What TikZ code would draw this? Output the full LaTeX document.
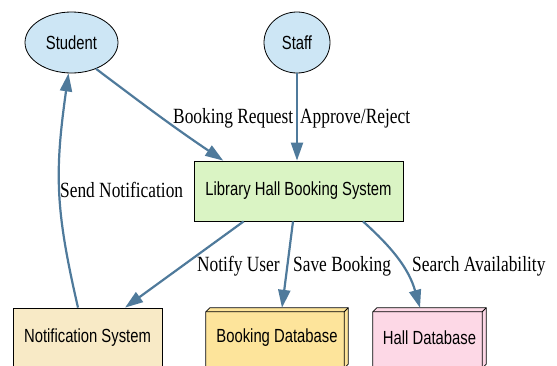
\documentclass[tikz,border=0pt]{standalone}
\usepackage{fontspec}
\newfontfamily\boxfont[FakeStretch=0.78]{Liberation Sans}
\newfontfamily\flowfont[FakeStretch=0.8]{Liberation Serif}
\usepackage{tikz}
\usetikzlibrary{arrows.meta, shapes}
\definecolor{edgeblue}{HTML}{4F7A9B}
\definecolor{actorfill}{HTML}{CDE6F5}
\definecolor{sysfill}{HTML}{DAF4C4}
\definecolor{notiffill}{HTML}{F8EAC6}
\definecolor{bookfill}{HTML}{FDE49B}
\definecolor{hallfill}{HTML}{FDD8E6}
\tikzstyle{actor} = [draw, ellipse, line width=0.8pt, fill=actorfill,
	minimum height=61pt, font=\boxfont\fontsize{19}{22}\selectfont]
\tikzstyle{process} = [draw, rectangle, line width=0.8pt, minimum height=60pt,
	font=\boxfont\fontsize{19}{22}\selectfont]
\tikzstyle{store} = [rectangle, minimum height=60pt,
	font=\boxfont\fontsize{19}{22}\selectfont]
\tikzstyle{line} = [draw, edgeblue, line width=2.2pt,
	-{Triangle[length=18pt,width=12pt]}]
\tikzstyle{flow} = [anchor=base west, inner sep=0pt,
	font=\flowfont\fontsize{21.7}{26}\selectfont]
% 3d frame round a store node
\newcommand{\storeframe}[1]{
	\fill[white] (#1.north west) -- ([xshift=4pt]#1.north west)
		-- ([yshift=-4pt]#1.north west) -- cycle
		(#1.south east) -- ([xshift=-4pt]#1.south east)
		-- ([yshift=4pt]#1.south east) -- cycle;
	\draw[line width=0.8pt] (#1.south west) -- ([yshift=-4pt]#1.north west)
		-- ([xshift=4pt]#1.north west) -- (#1.north east)
		-- ([yshift=4pt]#1.south east) -- ([xshift=-4pt]#1.south east) -- cycle;
	\draw[line width=0.8pt] ([yshift=-4pt]#1.north west)
		-- ([shift={(-4pt,-4pt)}]#1.north east) -- ([xshift=-4pt]#1.south east)
		([shift={(-4pt,-4pt)}]#1.north east) -- (#1.north east);
}

\begin{document}
\begin{tikzpicture}[x=1pt, y=1pt]
		\useasboundingbox (0,0) rectangle (557,-365);

		\node [actor, minimum width=93pt] (student) at (71.5,-42.5) {Student};
		\node [actor, minimum width=66pt] (staff) at (297,-42.5) {Staff};
		\node [process, fill=sysfill, minimum width=209pt] (sys) at (298.5,-191) {Library Hall Booking System};
		\node [process, fill=notiffill, minimum width=149pt] (notif) at (87.5,-338) {Notification System};
		\node [store, fill=bookfill, minimum width=142pt] (bdb) at (277,-338) {Booking Database};
		\node [store, fill=hallfill, minimum width=113pt] (hall) at (429.5,-338) {Hall Database};
		\storeframe{bdb}
		\storeframe{hall}

		\path [line] (student.-47) to[out=-37, in=146] (sys.158);
		\path [line] (staff) -- (sys.north -| staff);
		\path [line] (sys.209) -- (notif.39);
		\path [line] ([xshift=-5.5pt]sys.south) -- ([xshift=5pt]bdb.north);
		\path [line] ([xshift=64.5pt]sys.south) to[out=-42, in=106] ([xshift=-9.5pt]hall.north);
		\path [line] ([xshift=-9.5pt]notif.north) to[out=103, in=-98, looseness=1.1] ([xshift=-3pt]student.south);

		\node [flow] (lreq) at (173,-123) {Booking Request};
		\node [flow] (lappr) at (300,-123) {Approve/Reject};
		\node [flow] (lsend) at (60,-197) {Send Notification};
		\node [flow] (lnotify) at (197,-271) {Notify User};
		\node [flow] (lsave) at (293,-271) {Save Booking};
		\node [flow] (lsearch) at (412,-271) {Search Availability};
	\end{tikzpicture}
\end{document}
